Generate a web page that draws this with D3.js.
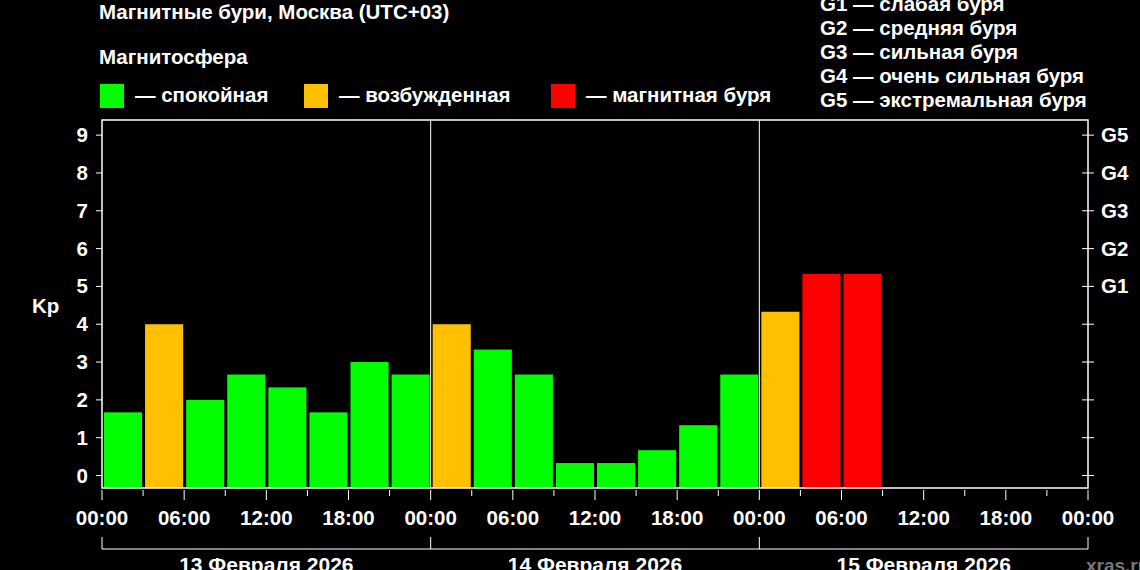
<!DOCTYPE html><html><head><meta charset="utf-8"><script src="https://cdn.jsdelivr.net/npm/d3@7"></script>
<style>body{margin:0;background:#000}text{font-family:"Liberation Sans Narrow","Liberation Sans",Arial,sans-serif;font-weight:bold;fill:#fff}</style></head><body><svg id="c" width="1140" height="570"></svg><script>
const kp=[1.67,4,2,2.67,2.33,1.67,3,2.67, 4,3.33,2.67,0.33,0.33,0.67,1.33,2.67, 4.33,5.33,5.33];
const days=["13 Февраля 2026","14 Февраля 2026","15 Февраля 2026"];
const hourLabels=["00:00","06:00","12:00","18:00"];
const gLabels=["G1","G2","G3","G4","G5"];
const legendItems=[["#00ff00","— спокойная"],["#ffc000","— возбужденная"],["#ff0000","— магнитная буря"]];
const gDesc=["G1 — слабая буря","G2 — средняя буря","G3 — сильная буря","G4 — очень сильная буря","G5 — экстремальная буря"];
const svg=d3.select("#c");
const L=102,R=1088,T=120,B=488;
const x=d3.scaleLinear().domain([0,24]).range([L,R]);
const y=d3.scaleLinear().domain([-0.33,9.4]).range([B,T]);
const col=v=>v>=5?"#ff0000":v>=4?"#ffc000":"#00ff00";
const fs=20.5;
svg.append("text").attr("x",99).attr("y",19).attr("font-size",fs).text("Магнитные бури, Москва (UTC+03)");
svg.append("text").attr("x",99).attr("y",64).attr("font-size",fs).text("Магнитосфера");
const lx=[100,304,551];
legendItems.forEach((d,i)=>{svg.append("rect").attr("x",lx[i]).attr("y",84).attr("width",24).attr("height",24).attr("fill",d[0]);
svg.append("text").attr("x",lx[i]+35).attr("y",102).attr("font-size",fs).text(d[1]);});
gDesc.forEach((d,i)=>svg.append("text").attr("x",820).attr("y",11+i*24).attr("font-size",fs).text(d));
const bw=x(1)-x(0);
svg.selectAll("rect.b").data(kp).join("rect").attr("class","b").attr("x",(d,i)=>x(i)+2).attr("width",bw-3)
 .attr("y",d=>y(d)).attr("height",d=>B-y(d)).attr("fill",col);
svg.append("rect").attr("x",L).attr("y",T).attr("width",R-L).attr("height",B-T).attr("fill","none").attr("stroke","#fff").attr("stroke-width",1.5);
[8,16].forEach(h=>svg.append("line").attr("x1",x(h)).attr("x2",x(h)).attr("y1",T).attr("y2",B).attr("stroke","#fff"));
d3.range(0,10).forEach(v=>{svg.append("line").attr("x1",L-6).attr("x2",L).attr("y1",y(v)).attr("y2",y(v)).attr("stroke","#fff");
svg.append("text").attr("x",L-14).attr("y",y(v)+7).attr("text-anchor","end").attr("font-size",fs).text(v);
svg.append("line").attr("x1",R-6).attr("x2",R+6).attr("y1",y(v)).attr("y2",y(v)).attr("stroke","#fff");});
gLabels.forEach((g,i)=>svg.append("text").attr("x",R+13).attr("y",y(i+5)+7).attr("font-size",fs).text(g));
svg.append("text").attr("x",32).attr("y",313).attr("font-size",fs).text("Kp");
d3.range(0,25).forEach(i=>{const big=i%2==0;svg.append("line").attr("x1",x(i)).attr("x2",x(i)).attr("y1",B+2).attr("y2",B+(big?12:8)).attr("stroke","#fff");
if(big)svg.append("text").attr("x",x(i)).attr("y",525).attr("text-anchor","middle").attr("font-size",fs).text(hourLabels[(i/2)%4]);});
svg.append("line").attr("x1",L).attr("x2",R).attr("y1",549).attr("y2",549).attr("stroke","#fff");
[0,8,16,24].forEach(h=>svg.append("line").attr("x1",x(h)).attr("x2",x(h)).attr("y1",537).attr("y2",549).attr("stroke","#fff"));
days.forEach((d,i)=>svg.append("text").attr("x",x(i*8+4)).attr("y",572).attr("text-anchor","middle").attr("font-size",21).text(d));
svg.append("text").attr("x",1086).attr("y",572).attr("font-size",19).style("fill","#777").text("xras.ru");
</script></body></html>
